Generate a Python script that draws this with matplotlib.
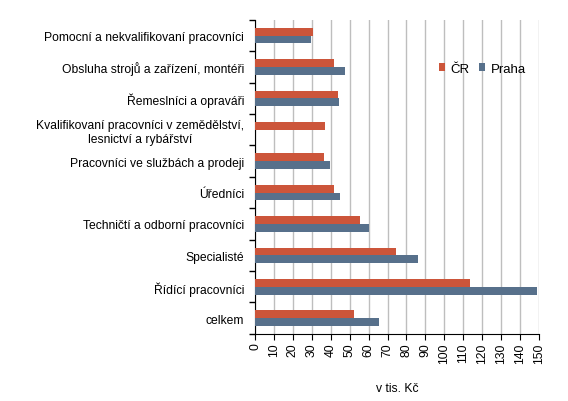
import matplotlib.pyplot as plt
import numpy as np

plt.rcParams['font.family'] = ['Liberation Sans', 'DejaVu Sans']

categories = ['Pomocní a nekvalifikovaní pracovníci',
              'Obsluha strojů a zařízení, montéři',
              'Řemeslníci a opraváři',
              'Kvalifikovaní pracovníci v zemědělství,\nlesnictví a rybářství',
              'Pracovníci ve službách a prodeji',
              'Úředníci',
              'Techničtí a odborní pracovníci',
              'Specialisté',
              'Řídící pracovníci',
              'celkem']
cr = [30.6, 41.7, 43.8, 37.0, 36.4, 41.7, 55.4, 74.4, 113.5, 52.3]
praha = [29.6, 47.5, 44.4, 0, 39.6, 44.9, 60.2, 86.1, 148.9, 65.5]
xticks = list(range(0, 151, 10))

fig = plt.figure(figsize=(5.68, 4.02), dpi=100)
ax = fig.add_axes([0.449, 0.167, 0.5, 0.781])

y = np.arange(len(categories))
h = 0.25
ax.barh(y - h / 2, cr, height=h, color='#CC553A', label='ČR', zorder=3)
ax.barh(y + h / 2, praha, height=h, color='#57708B', label='Praha', zorder=3)

ax.set_ylim(len(categories) - 0.5, -0.5)
ax.set_xlim(0, 150)
ax.set_xticks(xticks)
ax.set_xticklabels([str(t) for t in xticks], rotation=90, fontsize=8.7)
ax.xaxis.grid(True, color='#BEBEBE', linewidth=1, zorder=0)
ax.set_axisbelow(True)

ax.set_yticks(y)
ax.set_yticklabels(categories, fontsize=8.7, linespacing=1.2)
for lab in ax.get_yticklabels():
    lab.set_multialignment('center')
ax.tick_params(axis='y', which='major', length=0, pad=8)
ax.set_yticks(np.arange(-0.5, len(categories) + 0.5, 1), minor=True)
ax.tick_params(axis='y', which='minor', length=4, width=1, direction='out')
ax.tick_params(axis='x', length=4, direction='out', pad=2)

for s in ['top', 'right']:
    ax.spines[s].set_visible(False)
ax.spines['left'].set_color('black')
ax.spines['bottom'].set_color('black')

ax.set_xlabel('v tis. Kč', fontsize=8.7, labelpad=14)
ax.legend(loc='center', bbox_to_anchor=(0.8, 0.845), ncol=2, frameon=False,
          fontsize=9.5, handlelength=0.5, handleheight=0.5, columnspacing=0.7,
          handletextpad=0.4)

fig.savefig('out.png', dpi=100)
